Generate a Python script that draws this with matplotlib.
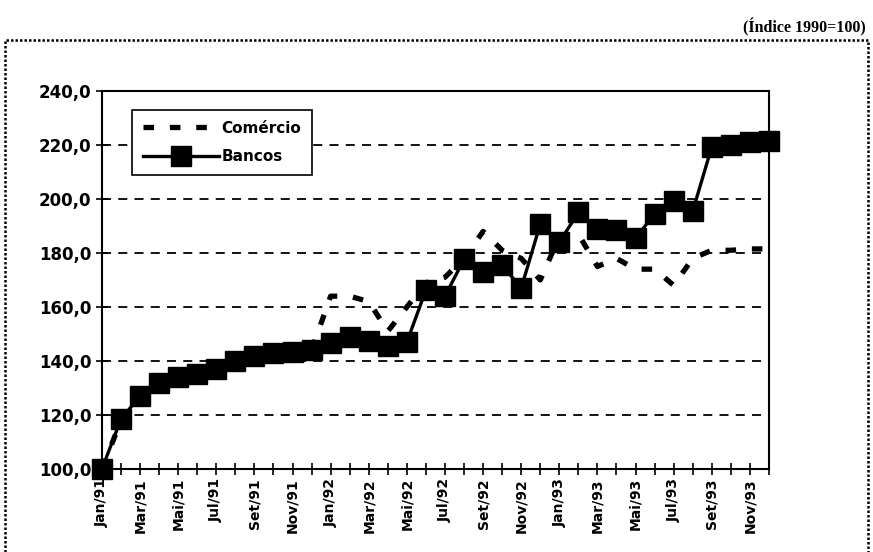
import matplotlib
matplotlib.use('Agg')
import numpy as np
import matplotlib.pyplot as plt
from matplotlib.patches import Rectangle
from matplotlib.ticker import FuncFormatter

plt.rcParams['font.family'] = ['DejaVu Sans']

meses = ['Jan', 'Fev', 'Mar', 'Abr', 'Mai', 'Jun',
         'Jul', 'Ago', 'Set', 'Out', 'Nov', 'Dez']
rotulos = [m + '/' + a for a in ['91', '92', '93'] for m in meses]

comercio = [100, 118, 127, 132, 134, 135, 137, 140, 142, 143, 143, 144,
            164, 164, 162, 151, 160, 169, 171, 178, 188, 181, 178, 170,
            186, 187, 175, 178, 174, 174, 168, 178, 181, 181, 181.5, 181.5]
bancos = [100, 118.5, 127, 132, 134, 135, 137, 140, 142, 143, 143.5, 144,
          146.5, 149, 147.5, 145.5, 147, 166.3, 164, 177.7, 173, 175.5, 167, 190.7,
          184, 195, 189, 188.5, 185.5, 194.5, 199.2, 195.5, 219.3, 220, 221, 221.5]

x = np.arange(len(rotulos))

fig = plt.figure(figsize=(8.73, 5.52), dpi=100)
ax = fig.add_axes([0.1168, 0.1504, 0.764, 0.6848])

# moldura pontilhada
fig.patches.append(Rectangle((0.006, -0.05), 0.988, 0.978, transform=fig.transFigure,
                             fill=False, edgecolor='black', linestyle=(0, (1, 0.8)),
                             linewidth=1.8, clip_on=False))
fig.text(0.992, 0.951, '(Índice 1990=100)', ha='right', va='center',
         fontsize=11.5, fontweight='bold', family='Liberation Serif')

ax.plot(x, comercio, color='black', linewidth=3.8, linestyle=(0, (2.0, 3.0)),
        label='Comércio', zorder=3)
ax.plot(x, bancos, color='black', linewidth=2.4, marker='s', markersize=14,
        label='Bancos', zorder=4, clip_on=False)

ax.set_xlim(0, len(rotulos) - 1)
ax.set_ylim(100, 240)
ax.set_yticks(np.arange(100, 241, 20))
ax.yaxis.set_major_formatter(FuncFormatter(lambda v, p: f'{v:.1f}'.replace('.', ',')))
ax.set_xticks(x)
ax.set_xticklabels([r if i % 2 == 0 else '' for i, r in enumerate(rotulos)],
                   rotation=90, fontsize=10, fontweight='bold')
for t in ax.get_yticklabels():
    t.set_fontsize(12)
    t.set_fontweight('bold')
ax.tick_params(axis='both', direction='inout', length=9, width=1.2, color='black')
ax.tick_params(axis='x', pad=2)
ax.tick_params(axis='y', pad=3)

for v in range(120, 240, 20):
    ax.axhline(v, color='black', linewidth=1.3, linestyle=(0, (5, 4)), zorder=1)

for s in ax.spines.values():
    s.set_linewidth(1.5)

leg = ax.legend(loc='upper left', bbox_to_anchor=(0.045, 0.95), fancybox=False,
                edgecolor='black', framealpha=1, borderaxespad=0,
                prop={'weight': 'bold', 'size': 11}, handlelength=5.0,
                handletextpad=0.15, borderpad=0.7, labelspacing=0.9)
leg.get_frame().set_linewidth(1.2)

fig.savefig('out.png', dpi=100)
